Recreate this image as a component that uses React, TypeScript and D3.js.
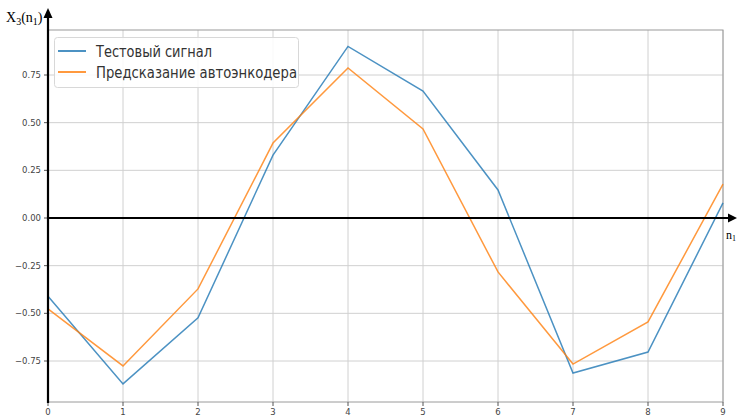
import React from "react";
import * as d3 from "d3";

const xTicks = [0, 1, 2, 3, 4, 5, 6, 7, 8, 9];
const yTicks = [-0.75, -0.5, -0.25, 0, 0.25, 0.5, 0.75];
const testSignal = [-0.41, -0.87, -0.524, 0.33, 0.9, 0.666, 0.147, -0.813, -0.703, 0.079];
const autoencoder = [-0.477, -0.776, -0.372, 0.393, 0.787, 0.467, -0.283, -0.766, -0.545, 0.178];
const seriesNames = ["Тестовый сигнал", "Предсказание автоэнкодера"];
const legendWidths = [116, 201];
const colors = ["#1f77b4", "#ff7f0e"];

const W = 737, H = 417;
const left = 48, right = 723, top = 30, bottom = 402;

export default function App() {
  const x = d3.scaleLinear().domain([0, 9]).range([left, right]);
  const y = d3.scaleLinear().domain([0, 0.75]).range([218, 75]);
  const line = d3.line<number>().x((_, i) => x(xTicks[i])).y((d) => y(d));
  const series = [testSignal, autoencoder];
  return (
    <svg width={W} height={H} style={{ position: "absolute", left: 0, top: 0 }}
      fontFamily="DejaVu Sans">
      <rect width={W} height={H} fill="#fff" />
      {/* grid */}
      {xTicks.map((t) => (
        <line key={"gx" + t} x1={x(t)} x2={x(t)} y1={top} y2={bottom} stroke="#d0d0d0" strokeWidth={1} />
      ))}
      {yTicks.map((t) => (
        <line key={"gy" + t} x1={left} x2={right} y1={y(t)} y2={y(t)} stroke="#d0d0d0" strokeWidth={1} />
      ))}
      {/* spines */}
      <rect x={left} y={top} width={right - left} height={bottom - top} fill="none" stroke="#9a9a9a" strokeWidth={1} />
      {/* ticks */}
      {xTicks.map((t) => (
        <g key={"tx" + t}>
          <line x1={x(t)} x2={x(t)} y1={bottom} y2={bottom + 4} stroke="#555" />
          <text x={x(t)} y={bottom + 13} fontSize={8.5} textAnchor="middle" fill="#444">{t}</text>
        </g>
      ))}
      {yTicks.map((t) => (
        <g key={"ty" + t}>
          <line x1={left - 4} x2={left} y1={y(t)} y2={y(t)} stroke="#555" />
          <text x={left - 7} y={y(t) + 3} fontSize={8.5} textAnchor="end" fill="#444">
            {d3.format(".2f")(t).replace("-", "\u2212")}
          </text>
        </g>
      ))}
      {/* lines */}
      {series.map((s, i) => (
        <path key={"s" + i} d={line(s) || ""} fill="none" stroke={colors[i]} strokeWidth={1.5} strokeOpacity={0.8} />
      ))}
      {/* axes with arrows */}
      <line x1={left} x2={730} y1={y(0)} y2={y(0)} stroke="#000" strokeWidth={2.2} />
      <path d={`M737,${y(0)} L728,${y(0) - 4.5} L728,${y(0) + 4.5} Z`} fill="#000" />
      <line x1={left} x2={left} y1={bottom + 1} y2={16} stroke="#000" strokeWidth={2.2} />
      <path d={`M${left},8 L${left - 4.5},18 L${left + 4.5},18 Z`} fill="#000" />
      <text x={6} y={22} fontFamily="Liberation Serif" fontSize={14} fill="#000">
        X<tspan fontSize={10} dy={3}>3</tspan><tspan dy={-3}>(n</tspan><tspan fontSize={10} dy={3}>1</tspan><tspan dy={-3}>)</tspan>
      </text>
      <text x={726} y={239} fontFamily="Liberation Serif" fontSize={12} fill="#000">
        n<tspan fontSize={8} dy={2}>1</tspan>
      </text>
      {/* legend */}
      <rect x={54.5} y={37.5} width={244} height={50} rx={3} fill="#fff" fillOpacity={0.85} stroke="#d8d8d8" />
      {seriesNames.map((n, i) => (
        <g key={"l" + i}>
          <line x1={58} x2={86} y1={51 + i * 21} y2={51 + i * 21} stroke={colors[i]} strokeWidth={2} strokeOpacity={0.8} />
          <text x={96} y={57 + i * 21} fontSize={15} fill="#333" textLength={legendWidths[i]}
            lengthAdjust="spacingAndGlyphs">{n}</text>
        </g>
      ))}
    </svg>
  );
}
